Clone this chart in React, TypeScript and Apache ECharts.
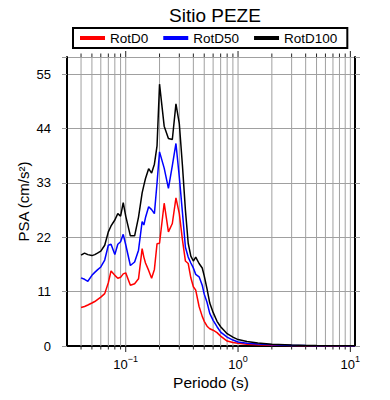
import React, { useEffect, useRef } from 'react';
import * as echarts from 'echarts';

const periods = [0.04, 0.043, 0.046, 0.05, 0.053, 0.056, 0.06, 0.065, 0.07, 0.074,
  0.08, 0.085, 0.09, 0.095, 0.1, 0.11, 0.12, 0.13, 0.14, 0.145,
  0.15, 0.16, 0.17, 0.18, 0.19, 0.2, 0.22, 0.24, 0.26, 0.28,
  0.3, 0.32, 0.34, 0.36, 0.38, 0.4, 0.42, 0.45, 0.48, 0.5,
  0.53, 0.56, 0.6, 0.65, 0.7, 0.8, 0.9, 1.0, 1.2, 1.5,
  2.0, 3.0, 4.0, 5.0, 7.0, 11.0];

const rotD100 = [18.4, 18.8, 18.5, 18.3, 18.5, 18.8, 19.2, 20.4, 23.1, 24.3,
  25.5, 26.8, 26.3, 29.0, 26.3, 22.3, 22.3, 26.1, 31.0, 32.5,
  33.9, 35.9, 35.0, 36.8, 40.5, 53.0, 44.5, 42.0, 41.8, 49.0,
  45.0, 36.5, 27.5, 20.8, 18.2, 17.2, 18.0, 16.7, 15.8, 14.2,
  11.5, 8.7, 6.8, 5.0, 3.9, 2.5, 1.8, 1.3, 0.9, 0.6,
  0.35, 0.18, 0.12, 0.08, 0.05, 0.03];

const rotD50 = [13.8, 13.5, 13.1, 14.3, 14.9, 15.4, 16.0, 17.4, 20.4, 20.6,
  18.5, 20.6, 21.1, 22.6, 20.5, 16.3, 17.0, 19.4, 25.2, 24.5,
  26.0, 28.2, 27.6, 26.8, 33.0, 39.3, 36.0, 31.9, 36.5, 41.0,
  34.2, 27.0, 20.0, 18.0, 16.8, 15.8, 14.5, 14.0, 12.3, 10.5,
  8.8, 6.6, 5.2, 3.9, 2.8, 1.8, 1.2, 0.8, 0.55, 0.4,
  0.25, 0.12, 0.08, 0.05, 0.03, 0.02];

const rotD0 = [7.8, 8.0, 8.3, 8.7, 9.0, 9.4, 9.9, 10.6, 12.8, 15.2,
  14.3, 13.7, 13.9, 14.6, 14.8, 12.3, 12.6, 13.6, 19.7, 18.0,
  16.8, 15.3, 13.7, 15.5, 20.7, 20.8, 28.9, 23.1, 24.8, 30.0,
  26.8, 21.5, 17.2, 16.7, 13.8, 12.0, 11.3, 8.0, 6.0, 5.0,
  4.0, 3.5, 3.2, 2.7, 2.0, 1.0, 0.7, 0.55, 0.35, 0.25,
  0.15, 0.08, 0.05, 0.03, 0.02, 0.01];

const seriesNames = ['RotD0', 'RotD50', 'RotD100'];
const seriesValues = [rotD0, rotD50, rotD100];
const seriesColors = ['#ff0000', '#0000ff', '#000000'];

const minorPeriods = [0.04, 0.05, 0.06, 0.07, 0.08, 0.09,
  0.2, 0.3, 0.4, 0.5, 0.6, 0.7, 0.8, 0.9,
  2, 3, 4, 5, 6, 7, 8, 9];
const majorPeriods = [0.1, 1, 10];

const X_MIN = 0.03;
const X_MAX = 11;
const Y_MAX = 58.5;
const Y_STEP = 11;

const FONT = '"Liberation Sans", Arial, Helvetica, sans-serif';

export default function App() {
  const ref = useRef<HTMLDivElement>(null);
  useEffect(() => {
    if (!ref.current) return;
    document.body.style.margin = '0';
    const chart = echarts.init(ref.current, null, { renderer: 'svg' });
    const gridData = [
      ...minorPeriods.map((p) => [p, 0]),
      ...majorPeriods.map((p) => [p, 1]),
    ];
    const supLabel = (v: number) => {
      const e = Math.log10(v);
      const r = Math.round(e);
      if (Math.abs(e - r) > 1e-6) return '';
      return '{b|10}{s|' + (r < 0 ? '\u2212' + -r : String(r)) + '}';
    };
    chart.setOption({
      animation: false,
      textStyle: { fontFamily: FONT },
      title: {
        text: 'Sitio PEZE',
        left: 164,
        top: 1,
        textStyle: { fontFamily: FONT, fontSize: 19, fontWeight: 'normal', color: '#000' },
      },
      legend: {
        data: seriesNames,
        left: 73,
        top: 28,
        orient: 'horizontal',
        icon: 'rect',
        itemWidth: 25,
        itemHeight: 4,
        itemGap: 15,
        padding: [3, 10, 3, 7],
        borderColor: '#000',
        borderWidth: 2,
        borderRadius: 0,
        textStyle: { fontFamily: FONT, fontSize: 13.5, color: '#000' },
      },
      grid: { left: 67, right: 35, top: 57, bottom: 54 },
      xAxis: [
        {
          type: 'log',
          logBase: 10,
          min: X_MIN,
          max: X_MAX,
          position: 'bottom',
          name: 'Periodo (s)',
          nameLocation: 'middle',
          nameGap: 28,
          nameMoveOverlap: false,
          nameTextStyle: { fontFamily: FONT, fontSize: 15.5, color: '#000' },
          axisLine: { show: true, lineStyle: { color: '#000', width: 2 } },
          axisTick: { show: false },
          splitLine: { show: false },
          axisLabel: {
            margin: 8,
            formatter: supLabel,
            rich: {
              b: { fontFamily: FONT, fontSize: 13, lineHeight: 17, verticalAlign: 'bottom', color: '#000' },
              s: { fontFamily: FONT, fontSize: 9, lineHeight: 10, verticalAlign: 'top', color: '#000' },
            },
          },
        },
        {
          type: 'log',
          logBase: 10,
          min: X_MIN,
          max: X_MAX,
          position: 'top',
          axisLine: { show: true, lineStyle: { color: '#000', width: 2 } },
          axisTick: { show: false },
          axisLabel: { show: false },
          splitLine: { show: false },
        },
      ],
      yAxis: [
        {
          type: 'value',
          min: 0,
          max: Y_MAX,
          interval: Y_STEP,
          name: 'PSA (cm/s\u00b2)',
          nameLocation: 'middle',
          nameGap: 36,
          nameMoveOverlap: false,
          nameTextStyle: { fontFamily: FONT, fontSize: 15, color: '#000' },
          axisLine: { show: true, lineStyle: { color: '#000', width: 2 } },
          axisTick: { show: true, length: 5, lineStyle: { color: '#999' } },
          axisLabel: {
            margin: 16,
            fontFamily: FONT,
            fontSize: 13,
            color: '#000',
            formatter: (v: number) => (Math.abs(v / Y_STEP - Math.round(v / Y_STEP)) < 1e-6 ? String(v) : ''),
          },
          splitLine: { show: true, lineStyle: { color: '#a0a0a0', width: 1 } },
        },
        {
          type: 'value',
          min: 0,
          max: Y_MAX,
          interval: Y_STEP,
          position: 'right',
          axisLine: { show: true, lineStyle: { color: '#000', width: 2 } },
          axisTick: { show: true, length: 5, lineStyle: { color: '#999' } },
          axisLabel: { show: false },
          splitLine: { show: false },
        },
      ],
      series: [
        {
          type: 'custom',
          name: '_grid',
          silent: true,
          clip: false,
          z: 1,
          xAxisIndex: 0,
          yAxisIndex: 0,
          data: gridData,
          encode: { x: 0, y: 1 },
          renderItem: (params: any, api: any) => {
            const cs = params.coordSys;
            const x = api.coord([api.value(0), 1])[0];
            const major = api.value(1) === 1;
            const len = major ? 6 : 3.5;
            const bottom = cs.y + cs.height;
            return {
              type: 'group',
              children: [
                { type: 'line', shape: { x1: x, y1: cs.y, x2: x, y2: bottom }, style: { stroke: '#a0a0a0', lineWidth: 1 } },
                { type: 'line', shape: { x1: x, y1: bottom, x2: x, y2: bottom + len }, style: { stroke: '#222', lineWidth: 1 } },
                { type: 'line', shape: { x1: x, y1: cs.y - len, x2: x, y2: cs.y }, style: { stroke: '#222', lineWidth: 1 } },
              ],
            };
          },
        },
        ...seriesNames.map((name, i) => ({
          type: 'line',
          name,
          xAxisIndex: 0,
          yAxisIndex: 0,
          data: periods.map((p, j) => [p, seriesValues[i][j]]),
          showSymbol: false,
          symbol: 'none',
          z: 3,
          lineStyle: { color: seriesColors[i], width: 1.5 },
          itemStyle: { color: seriesColors[i] },
        })),
      ],
    });
    return () => chart.dispose();
  }, []);
  return <div ref={ref} style={{ width: 390, height: 400 }} />;
}
